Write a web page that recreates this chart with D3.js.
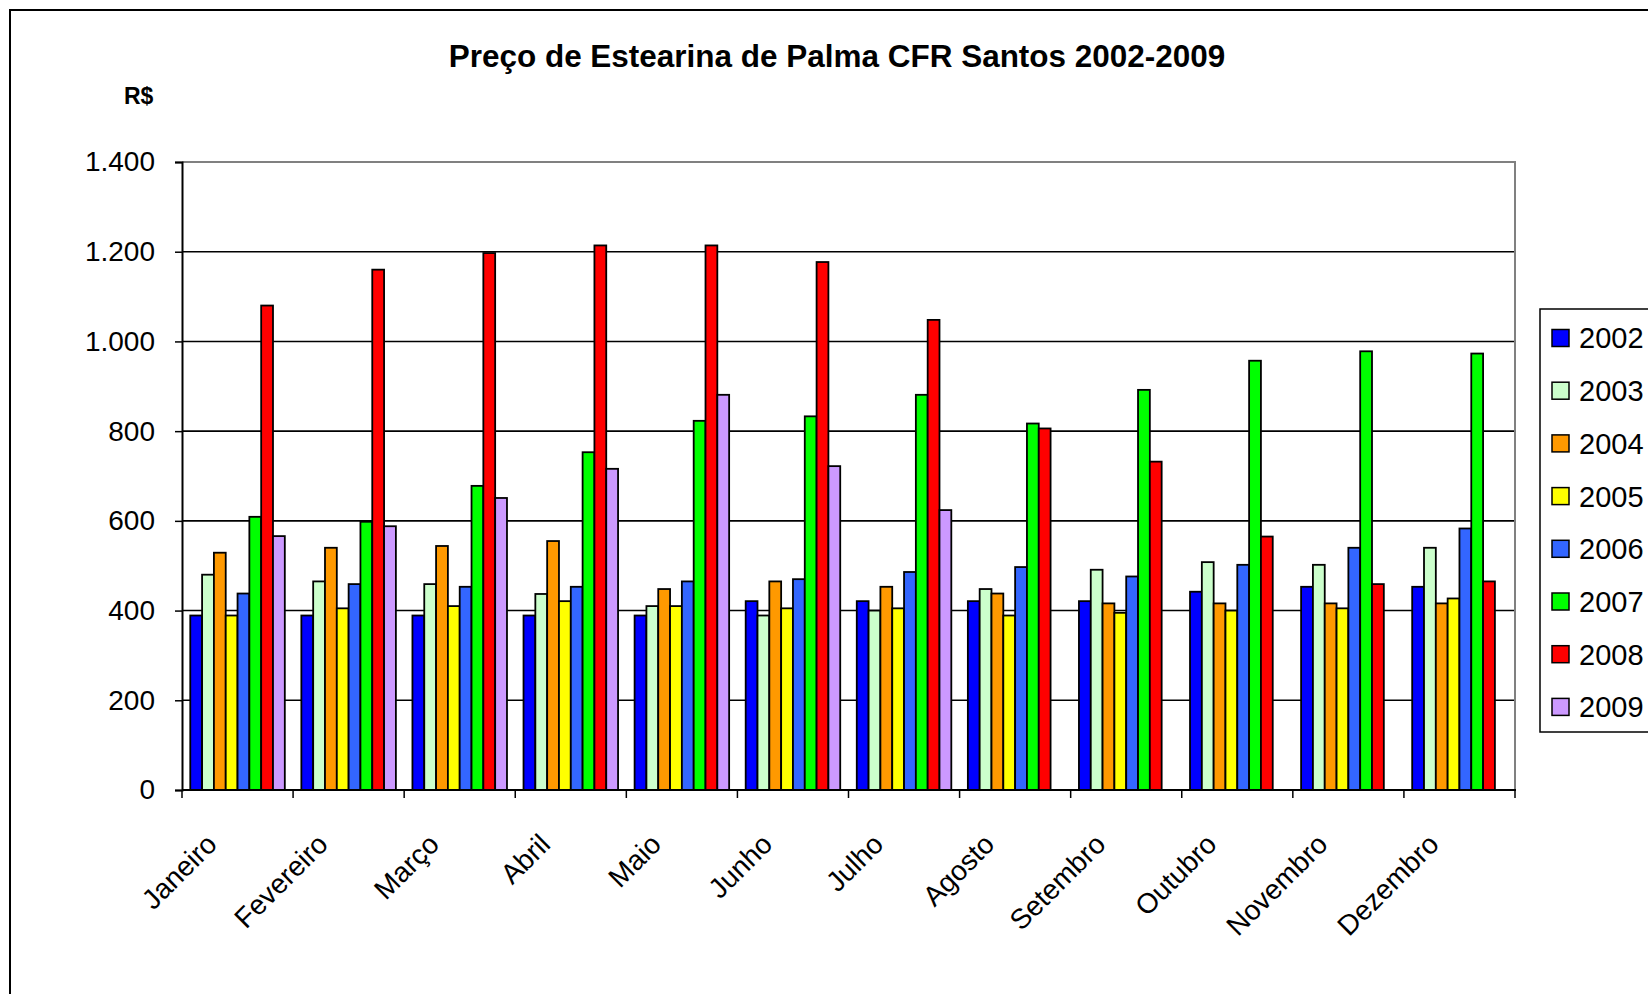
<!DOCTYPE html>
<html>
<head>
<meta charset="utf-8">
<script src="https://cdn.jsdelivr.net/npm/d3@7"></script>
<style>
  html, body { margin: 0; padding: 0; background: #fff; }
  svg { display: block; }
  text { font-family: "Liberation Sans", Arial, sans-serif; fill: #000; }
</style>
</head>
<body>
<svg id="chart" width="1648" height="994"></svg>
<script>
const title = "Preço de Estearina de Palma CFR Santos 2002-2009";
const yLabel = "R$";
const months = ["Janeiro","Fevereiro","Março","Abril","Maio","Junho","Julho","Agosto","Setembro","Outubro","Novembro","Dezembro"];
const years = ["2002","2003","2004","2005","2006","2007","2008","2009"];
const colors = ["#0000FF","#CCFFCC","#FF9900","#FFFF00","#3366FF","#00FF00","#FF0000","#CC99FF"];
const yTicks = [0, 200, 400, 600, 800, 1000, 1200, 1400];

const s2002 = [389, 389, 389, 389, 389, 421, 421, 421, 421, 442, 453, 453];
const s2003 = [480, 465, 459, 437, 410, 389, 400, 448, 491, 508, 502, 540];
const s2004 = [529, 540, 544, 555, 448, 465, 453, 438, 416, 416, 416, 416];
const s2005 = [389, 405, 410, 421, 410, 405, 405, 389, 395, 400, 405, 427];
const s2006 = [438, 459, 453, 453, 465, 470, 486, 497, 476, 502, 540, 583];
const s2007 = [609, 598, 678, 753, 823, 833, 881, 817, 892, 957, 978, 973];
const s2008 = [1080, 1160, 1197, 1214, 1214, 1177, 1048, 806, 732, 565, 459, 465];
const s2009 = [566, 588, 651, 716, 881, 722, 624, null, null, null, null, null];
const series = [s2002, s2003, s2004, s2005, s2006, s2007, s2008, s2009];

const svg = d3.select("#chart");
const plot = { left: 182, right: 1515, top: 162, bottom: 790 };

// outer frame (right/bottom run off the page)
svg.append("rect").attr("x", 10).attr("y", 10).attr("width", 1700).attr("height", 1100)
  .attr("fill", "#fff").attr("stroke", "#000").attr("stroke-width", 2);

const x0 = d3.scaleBand().domain(months).range([plot.left, plot.right]).paddingInner(0).paddingOuter(0);
const x1 = d3.scaleBand().domain(years).range([0, x0.bandwidth()]).paddingInner(0).paddingOuter(0.7);
const y = d3.scaleLinear().domain([0, 1400]).range([plot.bottom, plot.top]);

// gridlines
svg.append("g").selectAll("line").data(yTicks.filter(t => t > 0 && t < 1400)).join("line")
  .attr("x1", plot.left).attr("x2", plot.right)
  .attr("y1", d => y(d)).attr("y2", d => y(d))
  .attr("stroke", "#000").attr("stroke-width", 1.6);
// plot area border top/right (gray)
svg.append("path")
  .attr("d", `M${plot.left},${y(1400)}H${plot.right}V${plot.bottom}`)
  .attr("fill", "none").attr("stroke", "#808080").attr("stroke-width", 2);

// bars
const groups = svg.append("g").selectAll("g").data(years).join("g");
groups.each(function(yr, si) {
  const data = series[si].map((v, mi) => ({ m: months[mi], v }));
  d3.select(this).selectAll("rect").data(data.filter(d => d.v != null)).join("rect")
    .attr("x", d => x0(d.m) + x1(yr))
    .attr("width", x1.bandwidth())
    .attr("y", d => y(d.v))
    .attr("height", d => y(0) - y(d.v))
    .attr("fill", colors[si])
    .attr("stroke", "#000").attr("stroke-width", 1.8);
});

// y axis
const fmt = d3.formatLocale({ decimal: ",", thousands: ".", grouping: [3], currency: ["R$", ""] }).format(",d");
const yAxis = d3.axisLeft(y).tickValues(yTicks).tickSize(7).tickPadding(20).tickFormat(fmt);
const gy = svg.append("g").attr("transform", `translate(${plot.left},0)`).call(yAxis);
gy.select(".domain").attr("stroke", "#000").attr("stroke-width", 2);
gy.selectAll(".tick line").attr("stroke", "#000").attr("stroke-width", 1.5);
gy.selectAll(".tick text").attr("font-size", 28).attr("font-family", "Liberation Sans, Arial, sans-serif").attr("fill", "#000");

// x axis: ticks at category boundaries
svg.append("line").attr("x1", plot.left).attr("x2", plot.right + 1)
  .attr("y1", plot.bottom).attr("y2", plot.bottom).attr("stroke", "#000").attr("stroke-width", 2.2);
const boundaries = months.map(m => x0(m)).concat([x0(months[months.length - 1]) + x0.bandwidth()]);
svg.append("g").selectAll("line").data(boundaries).join("line")
  .attr("x1", d => d).attr("x2", d => d)
  .attr("y1", plot.bottom).attr("y2", plot.bottom + 8)
  .attr("stroke", "#000").attr("stroke-width", 1.5);
svg.append("g").selectAll("text").data(months).join("text")
  .attr("transform", d => `translate(${x0(d) + x0.bandwidth() / 2 - 19},${plot.bottom + 56}) rotate(-45)`)
  .attr("text-anchor", "end")
  .attr("font-size", 28)
  .text(d => d);

// title
const t = svg.append("text").attr("x", 837).attr("y", 67).attr("text-anchor", "middle")
  .attr("font-weight", "bold").attr("font-size", 28).text(title);
const tw = t.node().getComputedTextLength();
t.attr("font-size", 28 * 777 / tw);

// R$ label
svg.append("text").attr("x", 124).attr("y", 104).attr("font-weight", "bold")
  .attr("font-size", 23).text(yLabel);

// legend
svg.append("rect").attr("x", 1540).attr("y", 309).attr("width", 200).attr("height", 423)
  .attr("fill", "#fff").attr("stroke", "#000").attr("stroke-width", 1.5);
const leg = svg.append("g").selectAll("g").data(years).join("g")
  .attr("transform", (d, i) => `translate(1552,${338 + i * 52.7})`);
leg.append("rect").attr("x", 0).attr("y", -8.5).attr("width", 17).attr("height", 17)
  .attr("fill", (d, i) => colors[i]).attr("stroke", "#000").attr("stroke-width", 1.5);
leg.append("text").attr("x", 27).attr("y", 0).attr("dy", "0.36em")
  .attr("font-size", 29).text(d => d);
</script>
</body>
</html>
